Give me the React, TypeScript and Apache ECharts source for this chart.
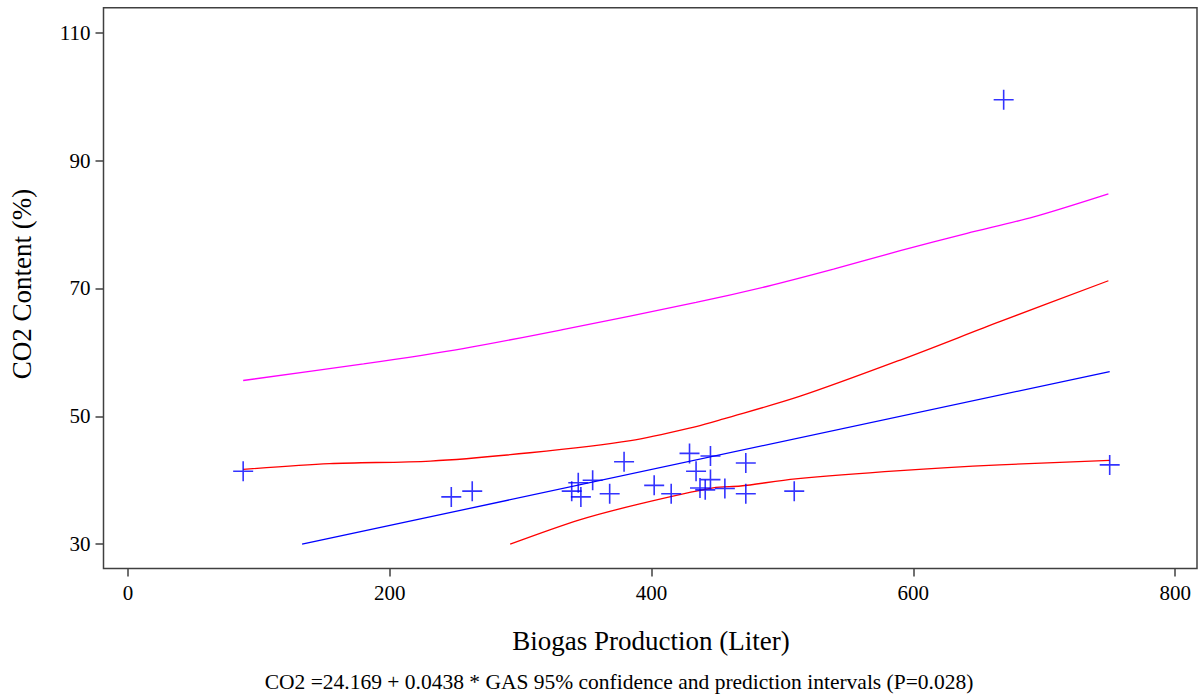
import React, { useEffect, useRef } from "react";
import * as echarts from "echarts";

const gasValues = [88, 247, 263, 339, 344, 346, 355, 368, 379, 402, 415, 429, 434, 437, 441, 445, 445, 456, 472, 472, 509, 669, 750];
const co2Values = [41.4, 37.4, 38.3, 38.3, 39.6, 37.4, 40.0, 37.9, 42.9, 39.2, 37.9, 44.2, 41.4, 38.8, 38.5, 43.8, 40.1, 38.7, 42.7, 37.9, 38.3, 99.5, 42.4];

const fitX = [133, 750];
const fitY = [30.0, 57.0];

const confUpperX = [88, 154, 231, 307, 384, 434, 455, 513, 590, 666, 749];
const confUpperY = [41.7, 42.6, 43.0, 44.3, 46.2, 48.4, 49.6, 53.1, 58.8, 64.8, 71.2];

const confLowerX = [292, 345, 391, 447, 468, 510, 590, 666, 750];
const confLowerY = [30.0, 33.8, 36.3, 38.8, 39.1, 40.2, 41.5, 42.4, 43.1];

const predUpperX = [88, 180, 256, 333, 434, 488, 539, 590, 641, 692, 749];
const predUpperY = [55.6, 58.2, 60.6, 63.6, 67.8, 70.3, 73.0, 75.9, 78.6, 81.2, 84.8];

const xTicks = [0, 200, 400, 600, 800];
const yTicks = [30, 50, 70, 90, 110];

const xTitle = "Biogas Production (Liter)";
const yTitle = "CO2 Content (%)";
const caption = "CO2 =24.169 + 0.0438 * GAS 95% confidence and prediction intervals (P=0.028)";

const zip = (xs: number[], ys: number[]) => xs.map((x, i) => [x, ys[i]]);

const FONT = "'Liberation Serif', 'Times New Roman', serif";

export default function App() {
  const ref = useRef<HTMLDivElement>(null);
  useEffect(() => {
    if (!ref.current) return;
    const chart = echarts.init(ref.current, null, { renderer: "svg" });
    const lineSeries = (data: number[][], color: string) => ({
      type: "line",
      data,
      showSymbol: false,
      smooth: 0.3,
      lineStyle: { color, width: 1.3 },
      z: 2,
    });
    chart.setOption({
      animation: false,
      backgroundColor: "#ffffff",
      grid: {
        left: 103.5,
        right: 6,
        top: 7.7,
        bottom: 126.5,
        show: true,
        borderColor: "#404040",
        borderWidth: 1.5,
        backgroundColor: "transparent",
      },
      xAxis: {
        type: "value",
        min: -18.7,
        max: 816.7,
        splitLine: { show: false },
        axisLine: { show: false, onZero: false },
        axisTick: { show: true, length: 8, lineStyle: { color: "#404040", width: 1.5 }, customValues: xTicks },
        axisLabel: { customValues: xTicks, fontFamily: FONT, fontSize: 21, color: "#000", margin: 14 },
      },
      yAxis: {
        type: "value",
        min: 26.2,
        max: 113.9,
        splitLine: { show: false },
        axisLine: { show: false, onZero: false },
        axisTick: { show: true, length: 8, lineStyle: { color: "#404040", width: 1.5 }, customValues: yTicks },
        axisLabel: { customValues: yTicks, fontFamily: FONT, fontSize: 21, color: "#000", margin: 13 },
      },
      series: [
        lineSeries(zip(predUpperX, predUpperY), "#ff00ff"),
        lineSeries(zip(confUpperX, confUpperY), "#ff0000"),
        lineSeries(zip(confLowerX, confLowerY), "#ff0000"),
        { ...lineSeries(zip(fitX, fitY), "#0000ff"), smooth: false },
        {
          type: "scatter",
          data: zip(gasValues, co2Values),
          symbol: "path://M0,10L20,10M10,0L10,20",
          symbolSize: 20,
          itemStyle: { color: "transparent", borderColor: "#0000ff", borderWidth: 1.6 },
          z: 3,
        },
      ],
      graphic: [
        {
          type: "text",
          x: 651,
          y: 641,
          style: { text: xTitle, font: `27px ${FONT}`, fill: "#000", textAlign: "center", textVerticalAlign: "middle" },
        },
        {
          type: "text",
          x: 22,
          y: 284,
          rotation: Math.PI / 2,
          style: { text: yTitle, font: `27px ${FONT}`, fill: "#000", textAlign: "center", textVerticalAlign: "middle" },
        },
        {
          type: "text",
          x: 619,
          y: 682,
          style: { text: caption, font: `21.5px ${FONT}`, fill: "#000", textAlign: "center", textVerticalAlign: "middle" },
        },
      ],
    });
    return () => chart.dispose();
  }, []);
  return <div ref={ref} style={{ position: "fixed", left: 0, top: 0, width: 1203, height: 695 }} />;
}
